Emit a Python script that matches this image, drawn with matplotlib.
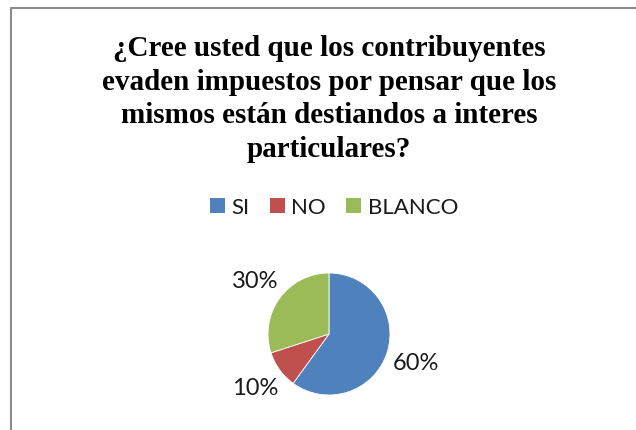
import matplotlib
matplotlib.use('Agg')
import matplotlib.pyplot as plt
from matplotlib.patches import Rectangle, Patch

# data
categorias = ['SI', 'NO', 'BLANCO']
valores = [60, 10, 30]
colores = ['#4F81BD', '#C0504D', '#9BBB59']
titulo = ('¿Cree usted que los contribuyentes\n'
          'evaden impuestos por pensar que los\n'
          'mismos están destiandos a interes\n'
          'particulares?')

W, H = 636, 431
DPI = 100
fig = plt.figure(figsize=(W / DPI, H / DPI), dpi=DPI)
fig.patch.set_facecolor('white')

# marco gris (se sale por la derecha y abajo)
fig.patches.append(Rectangle((11 / W, 0 - 0.05), 1.1, 1 - 9 / H + 0.05,
                             transform=fig.transFigure, fill=False,
                             edgecolor='#8c8c8c', linewidth=1.5))

fig.text(329 / W, 1 - 99 / H, titulo, ha='center', va='center',
         family='Liberation Serif', weight='bold', fontsize=21,
         linespacing=1.33)

# pie
r = 61
k = 1.7
size = 2 * r * k
cx, cy = 329, 335
ax = fig.add_axes([(cx - size / 2) / W, (H - cy - size / 2) / H, size / W, size / H])
ax.pie(valores, colors=colores, startangle=90, counterclock=False,
       autopct='%1.0f%%', pctdistance=1.5,
       wedgeprops=dict(edgecolor='white', linewidth=0.6),
       textprops=dict(family='Lato', fontsize=17, color='#1a1a1a'))
ax.set_xlim(-k, k)
ax.set_ylim(-k, k)
ax.set_aspect('equal')
ax.axis('off')

handles = [Patch(facecolor=c, edgecolor='none') for c in colores]
fig.legend(handles, categorias, loc='center', bbox_to_anchor=(334 / W, 1 - 208 / H),
           ncol=3, frameon=False, prop=dict(family='Lato', size=16),
           handlelength=0.68, handleheight=0.68, handletextpad=0.3,
           columnspacing=0.9, labelcolor='#1a1a1a')

fig.savefig('out.png', dpi=DPI)
